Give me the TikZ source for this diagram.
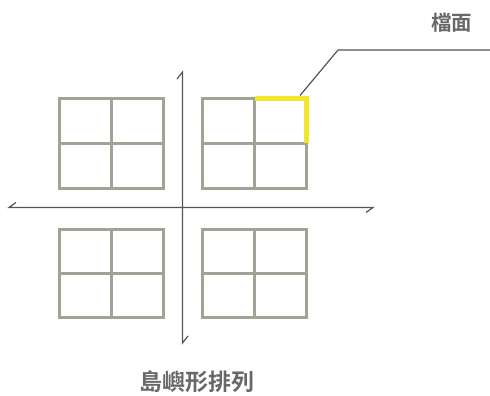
\documentclass[tikz,border=0pt]{standalone}
\usepackage{fontspec}
\newfontfamily\cjk{Noto Sans CJK TC}[BoldFont={Noto Sans CJK TC Bold}]
\definecolor{gridgray}{HTML}{A2A296}
\definecolor{axisgray}{HTML}{555555}
\definecolor{hiyellow}{HTML}{F0E62C}
\definecolor{labelgray}{HTML}{686868}
\tikzset{
  gridline/.style={draw=gridgray, line width=3pt},
  axisline/.style={draw=axisgray, line width=1.2pt},
  leaderline/.style={draw=axisgray, line width=1.2pt},
  hiline/.style={draw=hiyellow, line width=5.5pt, line join=miter},
  lbl/.style={inner sep=0pt, text=labelgray, font=\cjk\bfseries\fontsize{20.5}{24}\selectfont},
}
\newcommand{\wingrid}[4]{%
  \draw[gridline] (#1,#2) rectangle (#3,#4);
  \draw[gridline] ({(#1+#3)/2},#2) -- ({(#1+#3)/2},#4);
  \draw[gridline] (#1,{(#2+#4)/2}) -- (#3,{(#2+#4)/2});
}
\begin{document}
\begin{tikzpicture}[x=1pt,y=-1pt]
\useasboundingbox (0,0) rectangle (490,396);
% window grids
\wingrid{59}{98.5}{163}{188}
\wingrid{202.5}{98.5}{306.5}{188}
\wingrid{59}{229}{163}{317}
\wingrid{202.5}{229}{306.5}{317}
% highlight
\coordinate (h1) at (254.5,98.5);
\coordinate (h2) at (306.5,98.5);
\coordinate (h3) at (306.5,143);
\draw[hiline] (h1) -- (h2) -- (h3);
% axes
\coordinate (vtop) at (182.5,72);
\coordinate (vbot) at (182.5,343);
\coordinate (vtb) at (177,79);
\coordinate (vbb) at (188,336);
\coordinate (hl) at (9,207.5);
\coordinate (hr) at (373,207.5);
\coordinate (hlb) at (16,202.5);
\coordinate (hrb) at (366,212.5);
\draw[axisline] (vtb) -- (vtop) -- (vbot) -- (vbb);
\draw[axisline] (hlb) -- (hl) -- (hr) -- (hrb);
% leader and labels
\node[lbl] (top) at (451.5,23) {檔面};
\coordinate (ls) at (300,95.5);
\coordinate (lk) at (338,50);
\coordinate (le) at (490,50);
\draw[leaderline] (ls) -- (lk) -- (le);
\node[lbl, font=\cjk\bfseries\fontsize{23}{26}\selectfont] (bottom) at (196.5,381.5) {島嶼形排列};
\end{tikzpicture}
\end{document}
